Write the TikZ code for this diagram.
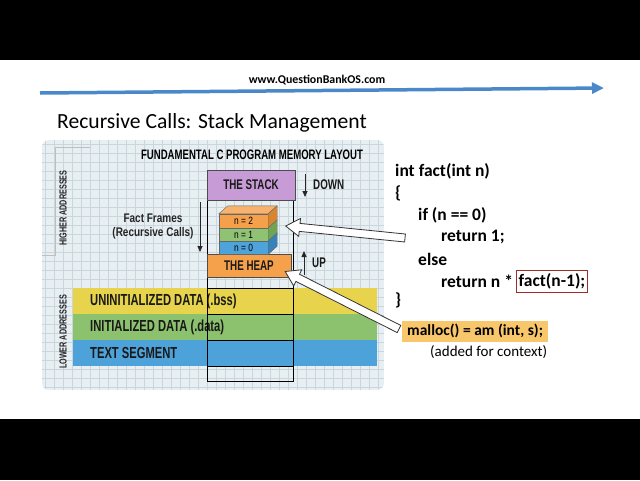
\documentclass[tikz,border=0pt]{standalone}
\usepackage{fontspec}
\setmainfont{Carlito}
\newfontfamily\cond[FakeStretch=0.8]{Liberation Sans}
\newfontfamily\condn[FakeStretch=0.7]{Liberation Sans}
\usetikzlibrary{arrows.meta,calc}
\definecolor{stackc}{HTML}{C79BD6}
\definecolor{orangec}{HTML}{F5A04A}
\definecolor{orangedk}{HTML}{D98530}
\definecolor{greenc}{HTML}{8FC373}
\definecolor{greendk}{HTML}{6FA455}
\definecolor{bluec}{HTML}{4FA3DB}
\definecolor{bluedk}{HTML}{3683BA}
\definecolor{yellowc}{HTML}{E8D44C}
\definecolor{bandgreen}{HTML}{8CC26E}
\definecolor{bandblue}{HTML}{4EA2DA}
\definecolor{panelc}{HTML}{E8EFF3}
\definecolor{gridc}{HTML}{C9D6DE}
\definecolor{hdrblue}{HTML}{4A88CA}
\definecolor{redbox}{HTML}{9E2E28}
\definecolor{hlc}{HTML}{F8C76C}
\begin{document}
\begin{tikzpicture}[x=1pt,y=-1pt,
  lbl/.style={font=\condn\bfseries\fontsize{16}{18}\selectfont, text=black!90, inner sep=0},
  boxlbl/.style={font=\condn\bfseries\fontsize{14}{16}\selectfont, text=black!90, inner sep=0},
  smalllbl/.style={font=\condn\bfseries\fontsize{10.3}{12}\selectfont, text=black!85, inner sep=0},
  framebox/.style={draw=black!60, line width=0.4pt, minimum width=49pt, inner sep=0, font=\cond\fontsize{10.5}{11}\selectfont},
  code/.style={font=\bfseries\fontsize{17.5}{20}\selectfont, anchor=west, inner sep=0, text=black},
  band/.style={anchor=west, inner sep=0, minimum width=304pt, minimum height=26pt},
  thinarrow/.style={black!85, line width=0.8pt, -{Triangle[length=6pt,width=5pt]}},
  bigarrow/.style={draw=black!80, fill=white, line width=0.8pt, line join=miter}
]
\useasboundingbox (0,0) rectangle (640,480);
\fill[black] (0,0) rectangle (640,480);
\fill[white] (0,60) rectangle (640,419);

% header
\node[font=\bfseries\fontsize{11.9}{13}\selectfont, inner sep=0] (url) at (317,80) {www.QuestionBankOS.com};
\coordinate (hl) at (40,93);
\coordinate (hr) at (604,88);
\draw[hdrblue, line width=3.5pt, -{Triangle[length=12pt,width=11pt]}] (hl) -- (hr);

% title
\node[font=\fontsize{21.6}{26}\selectfont, anchor=west, inner sep=0] (title) at (57,123) {Recursive Calls: Stack Management};

% panel
\begin{scope}
\clip[rounded corners=7pt] (42,140) rectangle (384,390);
\fill[panelc] (42,140) rectangle (384,390);
\draw[gridc, line width=0.4pt, step=9pt] (42,140) grid (384,390);
\end{scope}

\node[font=\condn\bfseries\fontsize{13.7}{15}\selectfont, inner sep=0] (ptitle) at (252,155) {FUNDAMENTAL C PROGRAM MEMORY LAYOUT};

% address brackets
\draw[black!25, line width=0.6pt] (90,147) -- (55,147) -- (55,255) -- (42,255);
\node[smalllbl, rotate=90] (hiaddr) at (63,208) {HIGHER ADDRESSES};
\node[smalllbl, rotate=90] (loaddr) at (63,332) {LOWER ADDRESSES};

% bands
\node[band, fill=yellowc] (bss) at (73,301) {};
\node[band, fill=bandgreen] (data) at (73,327) {};
\node[band, fill=bandblue] (text) at (73,353) {};
\node[lbl, anchor=west] (bssl) at (90,301) {UNINITIALIZED DATA (.bss)};
\node[lbl, anchor=west] (datal) at (90,327) {INITIALIZED DATA (.data)};
\node[lbl, anchor=west] (textl) at (90,353) {TEXT SEGMENT};

% column outline
\draw[black, line width=0.8pt] (207,200) -- (207,381) -- (293,381) -- (293,200);
\foreach \yy in {277,288,314,340,366} \draw[black, line width=0.8pt] (207,\yy) -- (293,\yy);

% stack and heap
\node[draw=black!70, fill=stackc, minimum width=88pt, minimum height=30pt, inner sep=0, boxlbl] (stack) at (251,185) {THE STACK};
\node[draw=black!70, fill=orangec, minimum width=84pt, minimum height=23pt, inner sep=0, boxlbl] (heap) at (249,265.5) {THE HEAP};

% fact frames (3D)
\node[framebox, fill=orangec, minimum height=14pt] (f2) at (243.5,221) {n = 2};
\node[framebox, fill=greenc, minimum height=13pt] (f1) at (243.5,234.5) {n = 1};
\node[framebox, fill=bluec, minimum height=13pt] (f0) at (243.5,247.5) {n = 0};
\draw[draw=black!60, fill=orangec!80!white, line width=0.4pt] (f2.north west) -- ($(f2.north west)+(9,-8)$) -- ($(f2.north east)+(9,-8)$) -- (f2.north east) -- cycle;
\draw[draw=black!60, fill=orangedk, line width=0.4pt] (f2.north east) -- ($(f2.north east)+(9,-8)$) -- ($(f2.south east)+(9,-8)$) -- (f2.south east) -- cycle;
\draw[draw=black!60, fill=greendk, line width=0.4pt] (f1.north east) -- ($(f1.north east)+(9,-8)$) -- ($(f1.south east)+(9,-8)$) -- (f1.south east) -- cycle;
\draw[draw=black!60, fill=bluedk, line width=0.4pt] (f0.north east) -- ($(f0.north east)+(9,-8)$) -- ($(f0.south east)+(9,-8)$) -- (f0.south east) -- cycle;

% labels and thin arrows
\node[font=\cond\bfseries\fontsize{12.5}{14}\selectfont, align=center, inner sep=0, text=black!85] (ff) at (153,226) {Fact Frames\\(Recursive Calls)};
\coordinate (ffa) at (200,202);
\coordinate (ffb) at (200,252);
\draw[thinarrow] (ffa) -- (ffb);
\node[boxlbl, anchor=west] (down) at (313,185) {DOWN};
\coordinate (da) at (305,174);
\coordinate (db) at (305,197);
\draw[thinarrow] (da) -- (db);
\node[boxlbl, anchor=west] (up) at (312,263) {UP};
\coordinate (ua) at (304,275);
\coordinate (ub) at (304,251);
\draw[thinarrow] (ua) -- (ub);

% code
\node[code] (c1) at (395,171) {int fact(int n)};
\node[code] (c2) at (395,193) {\{};
\node[code] (c3) at (418,215) {if (n == 0)};
\node[code] (c4) at (441,237) {return 1;};
\node[code] (c5) at (418,259) {else};
\node[code] (c6) at (441,281) {return n *};
\node[code, draw=redbox, line width=0.9pt, inner xsep=2pt, minimum height=22pt] (c7) at ($(c6.east)+(3,0)$) {fact(n-1);};
\node[code] (c8) at (395,300) {\}};
\node[code, font=\bfseries\fontsize{15.5}{18}\selectfont, fill=hlc, inner xsep=5pt, minimum height=21pt] (m) at (402,331) {malloc() = am (int, s);};
\node[font=\fontsize{15}{17}\selectfont, anchor=west, inner sep=0] (ctx) at (430,352) {(added for context)};

% big hollow arrows
\coordinate (t1) at ($(c4.west)+(-36,1)$);
\coordinate (p1) at ($(f2.east)+(17.5,5)$);
\coordinate (h1) at ($(p1)!14pt!(t1)$);
\draw[bigarrow] ($(t1)!4pt!90:(p1)$) -- ($(h1)!4pt!90:(p1)$) -- ($(h1)!9pt!90:(p1)$) -- (p1) -- ($(h1)!9pt!-90:(p1)$) -- ($(h1)!4pt!-90:(p1)$) -- ($(t1)!4pt!-90:(p1)$) -- cycle;
\coordinate (t2) at ($(m.west)+(-3,-2)$);
\coordinate (p2) at ($(heap.east)+(-6,6)$);
\coordinate (h2) at ($(p2)!14pt!(t2)$);
\draw[bigarrow] ($(t2)!4pt!90:(p2)$) -- ($(h2)!4pt!90:(p2)$) -- ($(h2)!9pt!90:(p2)$) -- (p2) -- ($(h2)!9pt!-90:(p2)$) -- ($(h2)!4pt!-90:(p2)$) -- ($(t2)!4pt!-90:(p2)$) -- cycle;
\end{tikzpicture}
\end{document}
